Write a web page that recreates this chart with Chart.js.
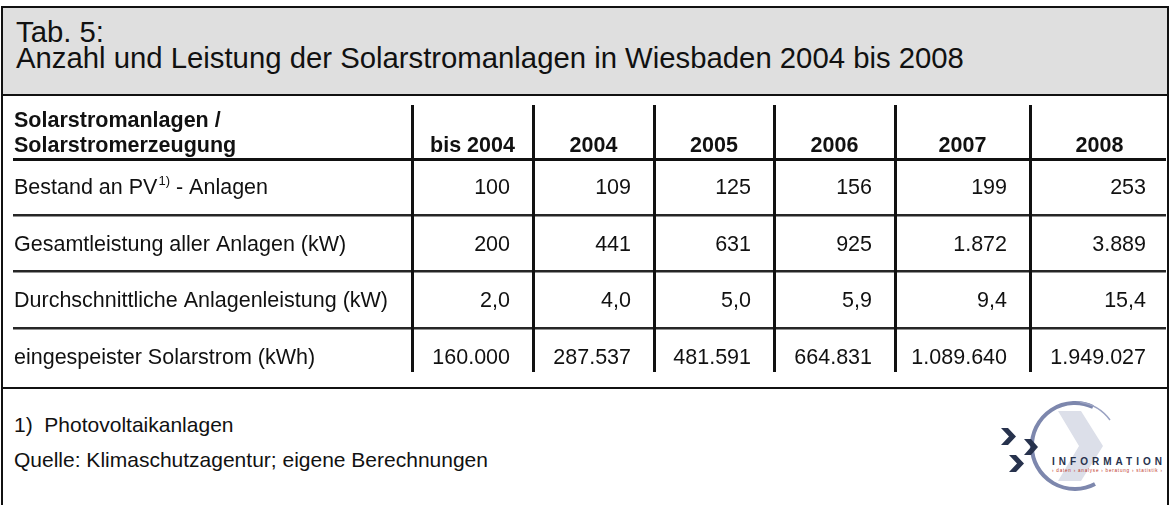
<!DOCTYPE html>
<html><head><meta charset="utf-8">
<script src="https://cdn.jsdelivr.net/npm/chart.js@4.4.1/dist/chart.umd.min.js"></script>
<style>
html,body{margin:0;padding:0;background:#fff;}
body{width:1171px;height:505px;position:relative;overflow:hidden;font-family:"Liberation Sans",Arial,Helvetica,sans-serif;color:#111;}
#frame{position:absolute;left:1px;top:6px;width:1164px;height:540px;border:2px solid #111;}
#band{position:absolute;left:3px;top:8px;width:1164px;height:86px;background:#dfdfdf;}
#hline{position:absolute;left:3px;top:94px;width:1164px;height:2px;background:#111;}
.t{position:absolute;left:16px;font-size:29.3px;line-height:29px;white-space:pre;color:#111;}
.f{position:absolute;left:14px;font-size:21px;line-height:21px;white-space:pre;color:#111;}
#c{position:absolute;left:0;top:0;}
#logo{position:absolute;left:990px;top:396px;}
</style></head>
<body>
<div id="band"></div>
<div id="frame"></div>
<div id="hline"></div>
<div class="t" style="top:17px">Tab. 5:</div>
<div class="t" style="top:43px">Anzahl und Leistung der Solarstromanlagen in Wiesbaden 2004 bis 2008</div>
<div class="f" style="top:414px">1)  Photovoltaikanlagen</div>
<div class="f" style="top:449px">Quelle: Klimaschutzagentur; eigene Berechnungen</div>
<svg id="logo" width="180" height="104" viewBox="990 396 180 104">
  <path d="M1058 411 L1081 411 L1103 446 L1081 481 L1058 481 L1079 446 Z" fill="#dcdfe9"/>
  <path d="M1093 407 A43 43 0 1 0 1095 484" fill="none" stroke="#7d87ad" stroke-width="4"/>
  <path d="M1080 402 A46 46 0 0 1 1110 420" fill="none" stroke="#9aa2c2" stroke-width="1.5"/>
  <path d="M1001 428 L1008 428 L1016 436.5 L1008 445 L1001 445 L1009 436.5 Z" fill="#27324d"/>
  <path d="M1024 439 L1031 439 L1038 447 L1031 455 L1024 455 L1031 447 Z" fill="#27324d"/>
  <path d="M1009 455 L1016 455 L1024 463.5 L1016 472 L1009 472 L1017 463.5 Z" fill="#27324d"/>
  <text x="1052" y="465" font-family="Liberation Sans, Arial, sans-serif" font-weight="bold" font-size="10" fill="#27324d" textLength="110" lengthAdjust="spacing">INFORMATION</text>
  <text x="1052" y="472" font-family="Liberation Sans, Arial, sans-serif" font-size="4.6" fill="#c0392b" textLength="110" lengthAdjust="spacing">› daten › analyse › beratung › statistik ›</text>
</svg>
<canvas id="c" width="1171" height="505"></canvas>
<script>
// ---- data ----
const headerLabel = ['Solarstromanlagen /', 'Solarstromerzeugung'];
const columns = ['bis 2004', '2004', '2005', '2006', '2007', '2008'];
const rowLabels = ['Bestand an PV', 'Gesamtleistung aller Anlagen (kW)', 'Durchschnittliche Anlagenleistung (kW)', 'eingespeister Solarstrom (kWh)'];
const rowLabelSup = ['1)', '', '', ''];
const rowLabelTail = [' - Anlagen', '', '', ''];
const bestand = [100, 109, 125, 156, 199, 253];
const gesamtleistung = [200, 441, 631, 925, 1872, 3889];
const durchschnitt = [2.0, 4.0, 5.0, 5.9, 9.4, 15.4];
const solarstrom = [160000, 287537, 481591, 664831, 1089640, 1949027];
const rowDecimals = [0, 0, 1, 0];

// ---- layout (not data) ----
const COL_W = [410, 121, 121, 120, 121, 135, 139];
const TOTAL = COL_W.reduce((a, b) => a + b, 0);
const FONT = '"Liberation Sans", Arial, Helvetica, sans-serif';
const rows = [bestand, gesamtleistung, durchschnitt, solarstrom];

function fmt(v, dec) {
  const s = Number(v).toFixed(dec);
  let parts = s.split('.');
  let int = parts[0].replace(/\B(?=(\d{3})+(?!\d))/g, '.');
  return parts[1] ? int + ',' + parts[1] : int;
}

const tablePlugin = {
  id: 'tablePlugin',
  afterDraw(chart) {
    const ctx = chart.ctx;
    const x = chart.scales.x, y = chart.scales.y;
    const edges = [0];
    COL_W.forEach(w => edges.push(edges[edges.length - 1] + w));
    const px = edges.map(v => x.getPixelForValue(v));
    const bTop = i => y.getPixelForValue(i - 0.5);
    const top = bTop(0), bottom = bTop(rows.length);
    ctx.save();
    // header texts
    ctx.fillStyle = '#111';
    ctx.font = 'bold 21.5px ' + FONT;
    ctx.textBaseline = 'alphabetic';
    ctx.textAlign = 'left';
    ctx.fillText(headerLabel[0], px[0] + 12, top - 31);
    ctx.fillText(headerLabel[1], px[0] + 12, top - 6);
    ctx.textAlign = 'center';
    columns.forEach((c, i) => ctx.fillText(c, (px[i + 1] + px[i + 2]) / 2, top - 6));
    // row labels and values
    ctx.font = '21.5px ' + FONT;
    ctx.textBaseline = 'middle';
    rowLabels.forEach((lab, r) => {
      const cy = y.getPixelForValue(r) + 2;
      ctx.textAlign = 'left';
      let cx = px[0] + 12;
      ctx.font = '21.5px ' + FONT;
      ctx.fillText(lab, cx, cy);
      cx += ctx.measureText(lab).width;
      if (rowLabelSup[r]) {
        ctx.font = '13px ' + FONT;
        ctx.fillText(rowLabelSup[r], cx + 1, cy - 7);
        cx += ctx.measureText(rowLabelSup[r]).width + 1;
        ctx.font = '21.5px ' + FONT;
      }
      if (rowLabelTail[r]) ctx.fillText(rowLabelTail[r], cx, cy);
      ctx.textAlign = 'right';
      rows[r].forEach((v, c) => ctx.fillText(fmt(v, rowDecimals[r]), px[c + 2] - 23, cy));
    });
    // lines
    ctx.fillStyle = '#111';
    ctx.fillRect(13, Math.round(top), 1153, 3);
    ctx.fillStyle = '#262626';
    for (let r = 1; r < rows.length; r++) ctx.fillRect(13, Math.round(bTop(r)) - 1, 1153, 2.5);
    ctx.fillStyle = '#111';
    for (let i = 1; i < px.length - 1; i++) ctx.fillRect(Math.round(px[i]) - 1, top - 53, 3, bottom - 12 - (top - 53));
    ctx.fillRect(1, Math.round(bottom) + 3, 1168, 2);
    ctx.restore();
  }
};

new Chart(document.getElementById('c').getContext('2d'), {
  type: 'scatter',
  data: { labels: rowLabels, datasets: [] },
  options: {
    responsive: false, animation: false, devicePixelRatio: 1,
    layout: { padding: { left: 2, right: 2, top: 158, bottom: 121 } },
    plugins: { legend: { display: false }, tooltip: { enabled: false }, title: { display: false } },
    scales: {
      x: { type: 'linear', min: 0, max: TOTAL, display: false },
      y: { type: 'category', labels: rowLabels, offset: true, display: false }
    }
  },
  plugins: [tablePlugin]
});
</script>
</body></html>
